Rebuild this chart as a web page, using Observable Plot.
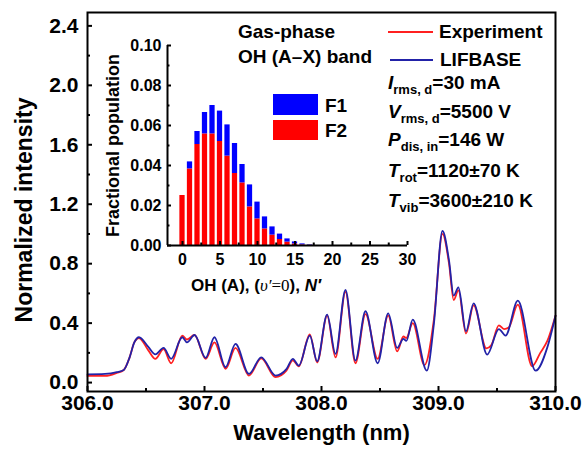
<!DOCTYPE html>
<html>
<head>
<meta charset="utf-8">
<script src="https://cdn.jsdelivr.net/npm/d3@7"></script>
<script src="https://cdn.jsdelivr.net/npm/@observablehq/plot@0.6"></script>
<style>
  html, body { margin: 0; padding: 0; background: #fff; }
  #wrap { position: relative; width: 584px; height: 451px; overflow: hidden;
          font-family: "Liberation Sans", Arial, sans-serif; font-weight: bold; color: #000; }
  #wrap svg { position: absolute; }
  .t { position: absolute; white-space: nowrap; line-height: 1; }
  .t i { font-style: italic; }
  .t sub { font-size: 13px; vertical-align: -5px; font-style: normal; line-height: 0; }
  .sw { position: absolute; }
</style>
</head>
<body>
<div id="wrap"></div>
<script>
// ---------- data ----------
// Experiment (red) spectrum
const expWl  = [306.00,306.15,306.25,306.31,306.36,306.40,306.44,306.52,306.58,306.65,306.715,306.81,306.85,306.915,307.01,307.085,307.18,307.265,307.38,307.485,307.607,307.70,307.755,307.806,307.90,307.963,308.048,308.12,308.205,308.29,308.376,308.48,308.57,308.647,308.70,308.725,308.78,308.88,308.96,309.034,309.09,309.13,309.17,309.235,309.30,309.41,309.45,309.516,309.56,309.60,309.678,309.80,309.87,309.93,310.00];
const expVal = [0.045,0.045,0.065,0.085,0.17,0.27,0.30,0.217,0.16,0.225,0.13,0.315,0.29,0.32,0.16,0.27,0.093,0.233,0.047,0.163,0.037,0.08,0.15,0.11,0.325,0.135,0.45,0.17,0.61,0.13,0.46,0.16,0.45,0.21,0.31,0.30,0.40,0.117,0.42,1.00,0.80,0.555,0.62,0.33,0.52,0.23,0.25,0.385,0.36,0.37,0.525,0.11,0.20,0.28,0.45];
// LIFBASE simulation (blue) spectrum
const lifWl  = [306.00,306.15,306.25,306.31,306.36,306.40,306.44,306.52,306.58,306.65,306.715,306.81,306.85,306.915,307.01,307.085,307.18,307.265,307.38,307.485,307.607,307.70,307.755,307.806,307.90,307.963,308.048,308.12,308.205,308.29,308.376,308.48,308.57,308.647,308.70,308.725,308.78,308.90,308.96,309.034,309.09,309.13,309.17,309.235,309.30,309.416,309.516,309.573,309.678,309.83,309.93,310.00];
const lifVal = [0.055,0.058,0.07,0.085,0.17,0.27,0.305,0.24,0.19,0.233,0.16,0.305,0.27,0.32,0.166,0.305,0.103,0.26,0.058,0.17,0.047,0.09,0.16,0.114,0.316,0.143,0.457,0.193,0.623,0.148,0.48,0.13,0.466,0.233,0.294,0.28,0.423,0.08,0.39,1.02,0.82,0.585,0.64,0.345,0.533,0.188,0.36,0.316,0.551,0.08,0.237,0.45];

// Inset: fractional population of OH(A, v'=0) rotational levels
const levelN = [0,1,2,3,4,5,6,7,8,9,10,11,12,13,14,15,16,17];
const popF2  = [0.025,0.0383,0.0505,0.0558,0.0558,0.052,0.0447,0.036,0.0313,0.0193,0.0133,0.0083,0.0052,0.003,0.0017,0.0008,0.0003,0.0001];
const popF1  = [0,0.0035,0.0065,0.0107,0.0142,0.0152,0.0156,0.015,0.0092,0.011,0.0084,0.006,0.0041,0.0027,0.0016,0.001,0.0005,0.0002];

// tick values
const xMajor = [306, 307, 308, 309, 310];
const xMinor = [306.5, 307.5, 308.5, 309.5];
const yMajor = [0, 0.4, 0.8, 1.2, 1.6, 2.0, 2.4];
const yMinor = [0.2, 0.6, 1.0, 1.4, 1.8, 2.2];
const inXMajor = [0, 5, 10, 15, 20, 25, 30];
const inXMinor = [2.5, 7.5, 12.5, 17.5, 22.5, 27.5];
const inYMajor = [0, 0.02, 0.04, 0.06, 0.08, 0.10];
const inYMinor = [0.01, 0.03, 0.05, 0.07, 0.09];

// ---------- build ----------
const font = "'Liberation Sans', Arial, sans-serif";
const expRows = expWl.map((w, i) => ({w, v: expVal[i]}));
const lifRows = lifWl.map((w, i) => ({w, v: lifVal[i]}));

const main = Plot.plot({
  width: 584, height: 451,
  marginLeft: 87, marginRight: 29, marginTop: 12, marginBottom: 60,
  style: {fontFamily: font, fontWeight: "bold", fontSize: "21px", background: "transparent", color: "#000", overflow: "visible"},
  x: {domain: [306, 310]},
  y: {domain: [-0.06, 2.49]},
  marks: [
    Plot.line(expRows, {x: "w", y: "v", stroke: "#ff2020", strokeWidth: 1.8, curve: "monotone-x"}),
    Plot.line(lifRows, {x: "w", y: "v", stroke: "#2222a8", strokeWidth: 1.8, curve: "monotone-x"}),
    Plot.axisX({ticks: xMajor, tickSize: -5, tickPadding: 9, tickFormat: d3.format(".1f"), label: null, strokeWidth: 2}),
    Plot.axisX({ticks: xMinor, tickSize: -3, tickFormat: () => "", label: null, strokeWidth: 2}),
    Plot.axisY({ticks: yMajor, tickSize: -5, tickPadding: 14, tickFormat: d3.format(".1f"), label: null, strokeWidth: 2}),
    Plot.axisY({ticks: yMinor, tickSize: -3, tickFormat: () => "", label: null, strokeWidth: 2}),
    Plot.frame({stroke: "#000", strokeWidth: 2}),
    Plot.text(["Wavelength (nm)"], {frameAnchor: "bottom", dy: 48, fontSize: 22, fontWeight: "bold"}),
    Plot.text(["Normalized intensity"], {frameAnchor: "left", textAnchor: "middle", rotate: -90, dx: -63, dy: 8, fontSize: 23, fontWeight: "bold"})
  ]
});

const barRows = [];
levelN.forEach((n, i) => {
  barRows.push({n, lo: 0, hi: popF2[i], s: "F2"});
  barRows.push({n, lo: popF2[i], hi: popF2[i] + popF1[i], s: "F1"});
});

const inset = Plot.plot({
  width: 330, height: 270,
  marginLeft: 77, marginRight: 13, marginTop: 15, marginBottom: 55,
  style: {fontFamily: font, fontWeight: "bold", fontSize: "16px", background: "transparent", color: "#000", overflow: "visible"},
  x: {domain: [-2, 30]},
  y: {domain: [0, 0.10]},
  color: {domain: ["F1", "F2"], range: ["#0000ff", "#ff0000"]},
  marks: [
    Plot.rectY(barRows, {x1: d => d.n - 0.35, x2: d => d.n + 0.35, y1: "lo", y2: "hi", fill: "s"}),
    Plot.ruleY([0], {stroke: "#000", strokeWidth: 2}),
    Plot.ruleX([-2], {stroke: "#000", strokeWidth: 2}),
    Plot.axisX({ticks: inXMajor, tickSize: -4, tickPadding: 12, tickFormat: d3.format("d"), label: null, strokeWidth: 2}),
    Plot.axisX({ticks: inXMinor, tickSize: -2.5, tickFormat: () => "", label: null, strokeWidth: 2}),
    Plot.axisY({ticks: inYMajor, tickSize: -4, tickPadding: 10, tickFormat: d3.format(".2f"), label: null, strokeWidth: 2}),
    Plot.axisY({ticks: inYMinor, tickSize: -2.5, tickFormat: () => "", label: null, strokeWidth: 2}),
    Plot.text(["Fractional population"], {frameAnchor: "left", textAnchor: "middle", rotate: -90, dx: -54, fontSize: 18, fontWeight: "bold"})
  ]
});

const wrap = document.getElementById("wrap");
main.style.left = "0px"; main.style.top = "0px";
inset.style.left = "90px"; inset.style.top = "30px";
wrap.appendChild(main);
wrap.appendChild(inset);

function addText(html, left, top, size, extra) {
  const d = document.createElement("div");
  d.className = "t";
  d.innerHTML = html;
  d.style.left = left + "px";
  d.style.top = top + "px";
  d.style.fontSize = size + "px";
  if (extra) Object.assign(d.style, extra);
  wrap.appendChild(d);
}
function addSwatch(left, top, w, h, bg, border) {
  const d = document.createElement("div");
  d.className = "sw";
  Object.assign(d.style, {left: left + "px", top: top + "px", width: w + "px", height: h + "px"});
  if (bg) d.style.background = bg;
  if (border) d.style.borderTop = border;
  wrap.appendChild(d);
}

addText("Gas-phase", 238, 22.4, 19);
addText("OH (A\u2013X) band", 238, 47.4, 19);
addSwatch(388, 31, 45, 0, null, "2px solid #ff2020");
addText("Experiment", 439, 22.4, 19);
addSwatch(390, 58.5, 43, 0, null, "2px solid #2222a8");
addText("LIFBASE", 440, 50, 19);
addText("<i>I</i><sub>rms, d</sub>=30 mA", 388, 73.4, 19);
addText("<i>V</i><sub>rms, d</sub>=5500 V", 388, 101.7, 19);
addText("<i>P</i><sub>dis, in</sub>=146 W", 388, 129.7, 19);
addText("<i>T</i><sub>rot</sub>=1120\u00b170 K", 388, 160.7, 19);
addText("<i>T</i><sub>vib</sub>=3600\u00b1210 K", 388, 190.7, 19);

addSwatch(273, 94, 45, 21, "#0000ff");
addSwatch(273, 120, 45, 20, "#ff0000");
addText("F1", 325, 95.7, 19);
addText("F2", 325, 120.7, 19);

addText("OH (A), (<span style=\"font-family:'Liberation Serif','Times New Roman',serif;font-weight:normal;font-style:italic\">\u03c5\u2032</span><span style=\"font-family:'Liberation Serif','Times New Roman',serif;font-weight:normal\">=0</span>), <i>N\u2032</i>", 256, 277, 17, {transform: "translateX(-50%)"});
</script>
</body>
</html>
